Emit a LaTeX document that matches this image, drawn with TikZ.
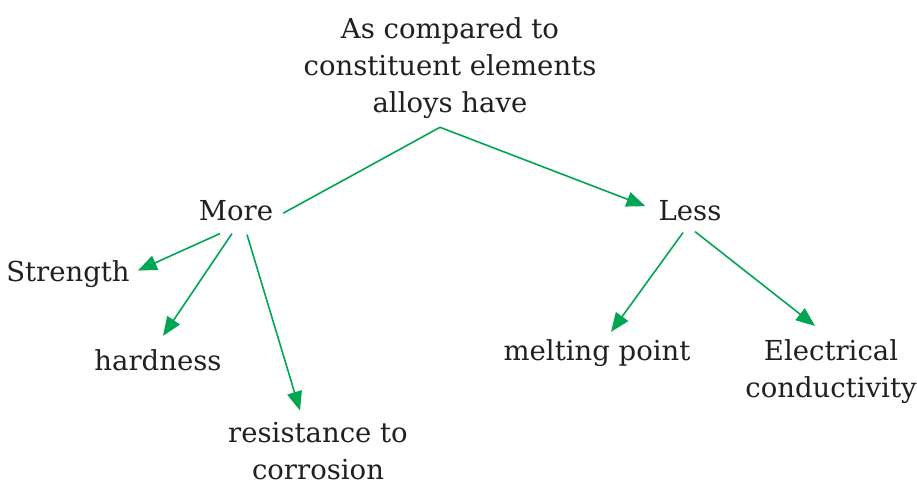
\documentclass[tikz,border=0pt]{standalone}
\usepackage{fontspec}
\setmainfont{DejaVu Serif}
\usetikzlibrary{arrows.meta,positioning,calc}
\definecolor{leafgreen}{RGB}{0,166,81}
\definecolor{inkgray}{RGB}{35,31,32}

\begin{document}
\begin{tikzpicture}[x=1pt,y=-1pt,
    term/.style={inner sep=0pt, anchor=base, text=inkgray, align=center,
      font=\fontsize{27.5}{37}\selectfont},
    link/.style={draw=leafgreen, line width=1.6pt},
    arr/.style={link, -{Triangle[length=19pt,width=15pt]}}]
  \useasboundingbox (0,0) rectangle (917,484);

  % root and the two branches (base = last line)
  \node[term] (alloys) at (450,113) {As compared to\\constituent elements\\alloys have};
  \node[term] (more) at (236,220) {More};
  \node[term] (less) at (690,220) {Less};

  % leaves
  \node[term] (strength) at (68,281) {Strength};
  \node[term] (hardness) at (158,370) {hardness};
  \node[term] (corrosion) at (318,479) {resistance to\\corrosion};
  \node[term] (melting) at (597,360) {melting point};
  \node[term] (conduct) at (831,397) {Electrical\\conductivity};

  % connectors
  \draw[link] ($(alloys.south)+(-10,8)$) -- ($(more.east)+(10,3)$);
  \draw[arr] ($(alloys.south)+(-10,8)$) -- ($(less.west)+(-13,-4)$);

  \draw[arr] ($(more.south)+(-16,13)$) -- ($(strength.east)+(8,-3)$);
  \draw[arr] ($(more.south)+(-4,13)$) -- ($(hardness.north)+(5,-13)$);
  \draw[arr] ($(more.south)+(11,14)$) -- ($(corrosion.north)+(-18,-11)$);

  \draw[arr] ($(less.south)+(-7,12)$) -- ($(melting.north)+(14,-7)$);
  \draw[arr] ($(less.south)+(5,11)$) -- ($(conduct.north)+(-16,-13)$);
\end{tikzpicture}
\end{document}
